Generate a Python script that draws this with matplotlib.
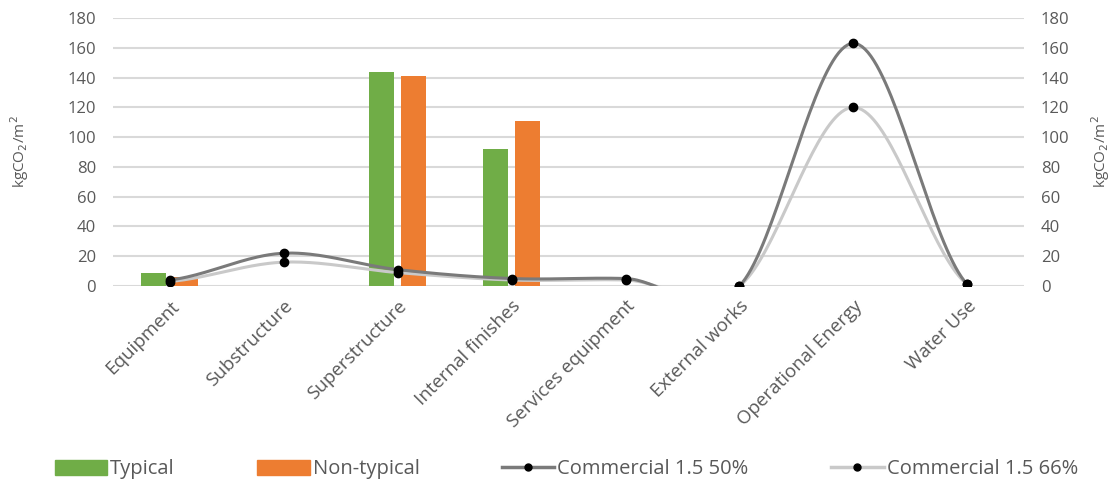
import numpy as np
import matplotlib
matplotlib.use("Agg")
import matplotlib.pyplot as plt
from matplotlib.lines import Line2D
from matplotlib.patches import Patch

plt.rcParams['font.family'] = ['Open Sans', 'DejaVu Sans']

categories = ["Equipment", "Substructure", "Superstructure", "Internal finishes",
              "Services equipment", "External works", "Operational Energy", "Water Use"]
typical = [9, 0, 144, 92, 0, 0, 0, 0]
non_typical = [6, 0, 141, 111, 0, 0, 0, 0]
commercial_50 = [4, 22, 11, 5, 5, 0, 163, 1]
commercial_66 = [3, 16, 9, 4, 4, 0, 120, 1]

GREEN = "#70ad47"
ORANGE = "#ed7d31"
DARK = "#7a7a7a"
LIGHT = "#c9c9c9"
TEXT = "#595959"
GRID = "#d9d9d9"


def smooth(xs, ys, n=40):
    """Catmull-Rom curve through the points, like a smoothed line chart."""
    xs = np.asarray(xs, float)
    ys = np.asarray(ys, float)
    px = np.concatenate([[2 * xs[0] - xs[1]], xs, [2 * xs[-1] - xs[-2]]])
    py = np.concatenate([[ys[0]], ys, [ys[-1]]])
    outx, outy = [], []
    for i in range(1, len(px) - 2):
        t = np.linspace(0, 1, n)
        for p, out in ((px, outx), (py, outy)):
            p0, p1, p2, p3 = p[i - 1], p[i], p[i + 1], p[i + 2]
            b0 = p1
            b1 = p1 + (p2 - p0) / 6
            b2 = p2 - (p3 - p1) / 6
            b3 = p2
            out.extend((1 - t) ** 3 * b0 + 3 * (1 - t) ** 2 * t * b1
                       + 3 * (1 - t) * t ** 2 * b2 + t ** 3 * b3)
    return np.array(outx), np.array(outy)


fig = plt.figure(figsize=(11.17, 4.88), dpi=100)
ax = fig.add_axes([0.101, 0.414, 0.816, 0.549])
ax2 = ax.twinx()

x = np.arange(len(categories))
w = 0.22
ax.bar(x - 0.14, typical, w, color=GREEN, zorder=2)
ax.bar(x + 0.14, non_typical, w, color=ORANGE, zorder=2)

for vals, col in ((commercial_66, LIGHT), (commercial_50, DARK)):
    sx, sy = smooth(x, vals)
    ax2.plot(sx, sy, color=col, lw=2.2, solid_capstyle='round', zorder=3)
    ax2.plot(x, vals, 'o', color='black', ms=6, zorder=4)

for a in (ax, ax2):
    a.set_ylim(0, 180)
    a.set_yticks(range(0, 181, 20))
    for s in a.spines.values():
        s.set_visible(False)
    a.tick_params(axis='y', length=0, labelsize=12, labelcolor=TEXT, pad=12)
ax.set_xlim(-0.5, len(categories) - 0.5)
ax.yaxis.grid(True, color=GRID, lw=1.5, zorder=0)
ax.set_axisbelow(True)

ax.set_xticks(x)
ax.set_xticklabels(categories, rotation=45, ha='right', rotation_mode='anchor',
                   fontsize=13.5, color=TEXT)
ax.tick_params(axis='x', length=0, pad=8)

ax.set_ylabel("kgCO$_2$/m$^2$", fontsize=11, color=TEXT, labelpad=26)
ax2.set_ylabel("kgCO$_2$/m$^2$", fontsize=11, color=TEXT, labelpad=14,
               rotation=90)

handles = [
    Patch(color=GREEN, label="Typical"),
    Patch(color=ORANGE, label="Non-typical"),
    Line2D([], [], color=DARK, lw=2.5, marker='o', mfc='black', mec='black',
           ms=5, label="Commercial 1.5 50%"),
    Line2D([], [], color=LIGHT, lw=2.5, marker='o', mfc='black', mec='black',
           ms=5, label="Commercial 1.5 66%"),
]
fig.legend(handles=handles, loc='center', bbox_to_anchor=(0.507, 0.038), ncol=4,
           frameon=False, fontsize=14.5, labelcolor=TEXT, handlelength=2.6,
           handleheight=0.8, handletextpad=0.15, columnspacing=4.1)

fig.savefig("out.png", dpi=100)
